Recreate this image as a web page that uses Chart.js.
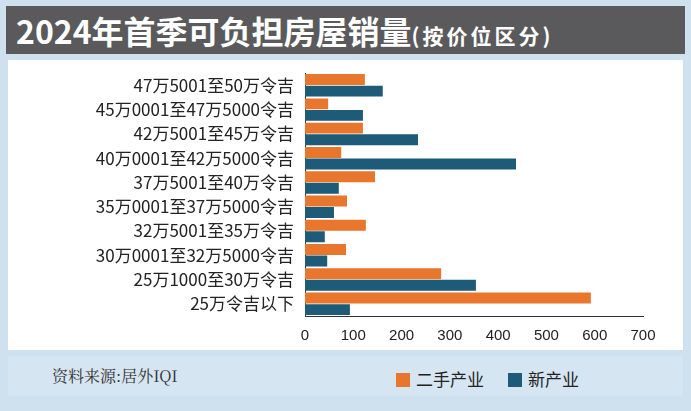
<!DOCTYPE html>
<html><head><meta charset="utf-8">
<script src="https://cdn.jsdelivr.net/npm/chart.js@4"></script>
<style>
body{margin:0;width:691px;height:411px;background:#cfe0ee;font-family:"Noto Sans CJK SC",sans-serif;position:relative;overflow:hidden}
#title{position:absolute;left:6px;top:6px;width:679px;height:48px;background:#5a5a5c;color:#fff;font-weight:bold;font-size:32px;line-height:48px;padding-left:10px;box-sizing:border-box;white-space:nowrap}
#title small{font-size:21px;letter-spacing:3px}
#box{position:absolute;left:8px;top:60px;width:675px;height:290px;background:#fff}
#foot{position:absolute;left:8px;top:356px;width:675px;height:40px;background:#d6e5f2;font-size:16px}
.s{position:absolute;left:44px;top:8px;color:#333;font-family:"Noto Serif CJK SC","Noto Sans CJK SC";}
.lg{position:absolute;top:10px;font-size:17px;color:#222}
.lg i{display:inline-block;width:14px;height:14px;margin-right:6px;vertical-align:-1px}
</style></head><body>
<div id="title">2024年首季可负担房屋销量<small>(按价位区分)</small></div>
<div id="box"><canvas id="c" width="675" height="290"></canvas></div>
<div id="foot"><span class="s">资料来源:居外IQI</span>
<span class="lg" style="left:388px"><i style="background:#e8762c"></i>二手产业</span>
<span class="lg" style="left:500px"><i style="background:#1d5b78"></i>新产业</span></div>
<script>
const categories=["47万5001至50万令吉","45万0001至47万5000令吉","42万5001至45万令吉","40万0001至42万5000令吉","37万5001至40万令吉","35万0001至37万5000令吉","32万5001至35万令吉","30万0001至32万5000令吉","25万1000至30万令吉","25万令吉以下"];
const secondHand=[124,48,120,75,145,87,126,85,282,592];
const newProp=[161,120,234,437,70,60,41,46,354,93];
const ticks=[0,100,200,300,400,500,600,700];
new Chart(document.getElementById('c'),{type:'bar',
data:{labels:categories,datasets:[
{label:'二手产业',data:secondHand,backgroundColor:'#e8762c',categoryPercentage:0.95,barPercentage:0.95},
{label:'新产业',data:newProp,backgroundColor:'#1d5b78',categoryPercentage:0.95,barPercentage:0.95}]},
options:{indexAxis:'y',responsive:false,animation:false,
layout:{padding:{left:0,right:40,top:6,bottom:2}},
plugins:{legend:{display:false},tooltip:{enabled:false}},
scales:{x:{min:0,max:700,afterBuildTicks:a=>{a.ticks=ticks.map(v=>({value:v}))},grid:{display:false},border:{color:'#333'},ticks:{color:'#222',font:{size:15,family:'Liberation Sans'}}},
y:{grid:{display:false},border:{color:'#333'},afterFit:a=>{a.width=297},ticks:{color:'#222',font:{size:17,family:'Noto Sans CJK SC'}}}}}});
</script></body></html>
